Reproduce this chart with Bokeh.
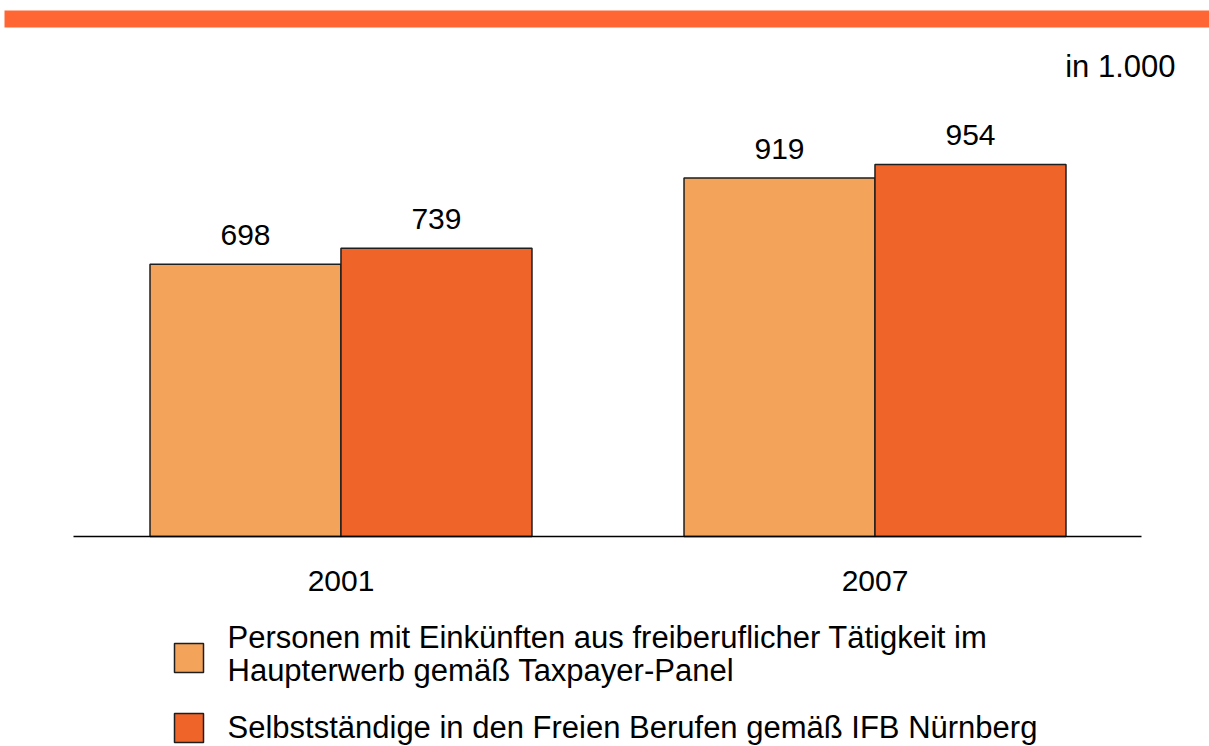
from bokeh.plotting import figure
from bokeh.models import (ColumnDataSource, FactorRange, Range1d, LabelSet, Label,
                          BoxAnnotation)
from bokeh.core.properties import value
from bokeh.transform import dodge
from bokeh.embed import file_html
from bokeh.resources import INLINE

# ---- data ----
years = ["2001", "2007"]
taxpayer_panel = [698, 919]
ifb_nuernberg = [739, 954]
legend_taxpayer = ["Personen mit Einkünften aus freiberuflicher Tätigkeit im",
                   "Haupterwerb gemäß Taxpayer-Panel"]
legend_ifb = "Selbstständige in den Freien Berufen gemäß IFB Nürnberg"
unit_note = "in 1.000"

# ---- style ----
FONT = "Liberation Sans"
C_LIGHT = "#F4A35B"
C_DARK = "#EF6428"
C_TOP = "#FF6633"
EDGE = "#1e1e1e"

W, H = 1209, 746
PAD = 0.132                 # category padding (fraction of the 2 category units)
BASE_PX = 536               # pixel row of the zero line
PX_PER_UNIT = 0.39          # vertical pixels per 1 value unit
y_top = BASE_PX / PX_PER_UNIT
y_bot = -(H - BASE_PX) / PX_PER_UNIT
half = 2 * PAD / 2
sx = W / (2 + 2 * half)
SHIFT = 3 / sx              # small horizontal nudge of the groups


def X(px):
    return -half + px / sx


def Y(py):
    return y_top - py / PX_PER_UNIT


src = ColumnDataSource(dict(
    years=years,
    tp=taxpayer_panel,
    ifb=ifb_nuernberg,
    tp_txt=[str(v) for v in taxpayer_panel],
    ifb_txt=[str(v) for v in ifb_nuernberg],
    lab_y=[Y(580)] * len(years),
))

p = figure(width=W, height=H, output_backend="svg", toolbar_location=None,
           x_range=FactorRange(factors=years, range_padding=PAD,
                               range_padding_units="percent"),
           y_range=Range1d(y_bot, y_top),
           x_axis_location=None, y_axis_location=None, min_border=0)
p.outline_line_color = None
p.grid.visible = False

off = 0.1788
bw = 0.3577
p.vbar(x=dodge("years", -off + SHIFT, range=p.x_range), top="tp", width=bw,
       source=src, fill_color=C_LIGHT, line_color=EDGE, line_width=1.5)
p.vbar(x=dodge("years", off + SHIFT, range=p.x_range), top="ifb", width=bw,
       source=src, fill_color=C_DARK, line_color=EDGE, line_width=1.5)

for col, txt, dx in (("tp", "tp_txt", -off), ("ifb", "ifb_txt", off)):
    p.add_layout(LabelSet(x=dodge("years", dx + SHIFT, range=p.x_range), y=col,
                          text=txt, source=src, text_align="center",
                          text_baseline="alphabetic", y_offset=19,
                          text_font=value(FONT), text_font_size="30px",
                          text_color="black"))

# baseline (category axis line)
p.segment(x0=[X(73)], y0=[0], x1=[X(1141)], y1=[0], line_color="black",
          line_width=1.5)

# category labels
p.text(x=dodge("years", SHIFT, range=p.x_range), y="lab_y", text="years",
       source=src, text_align="center", text_baseline="middle",
       text_font=value(FONT), text_font_size="30px", text_color="black")

# top decorative band
p.add_layout(BoxAnnotation(left=X(4), right=X(1209), top=Y(10), bottom=Y(27),
                           fill_color=C_TOP, fill_alpha=1, line_color=None))

# unit note
p.add_layout(Label(x=X(1175), y=Y(66), text=unit_note, text_align="right",
                   text_baseline="middle", text_font=FONT,
                   text_font_size="31px", text_color="black"))

# legend
p.add_layout(BoxAnnotation(left=X(174), right=X(203), top=Y(643), bottom=Y(672),
                           fill_color=C_LIGHT, fill_alpha=1,
                           line_color=EDGE, line_alpha=1, line_width=1.5))
p.add_layout(BoxAnnotation(left=X(174), right=X(203), top=Y(713), bottom=Y(742),
                           fill_color=C_DARK, fill_alpha=1,
                           line_color=EDGE, line_alpha=1, line_width=1.5))
for py, t in zip((637, 670), legend_taxpayer):
    p.add_layout(Label(x=X(227), y=Y(py), text=t, text_align="left",
                       text_baseline="middle", text_font=FONT,
                       text_font_size="31px", text_color="black"))
p.add_layout(Label(x=X(227), y=Y(727), text=legend_ifb, text_align="left",
                   text_baseline="middle", text_font=FONT,
                   text_font_size="31px", text_color="black"))

open("out.html", "w").write(file_html(p, INLINE))
